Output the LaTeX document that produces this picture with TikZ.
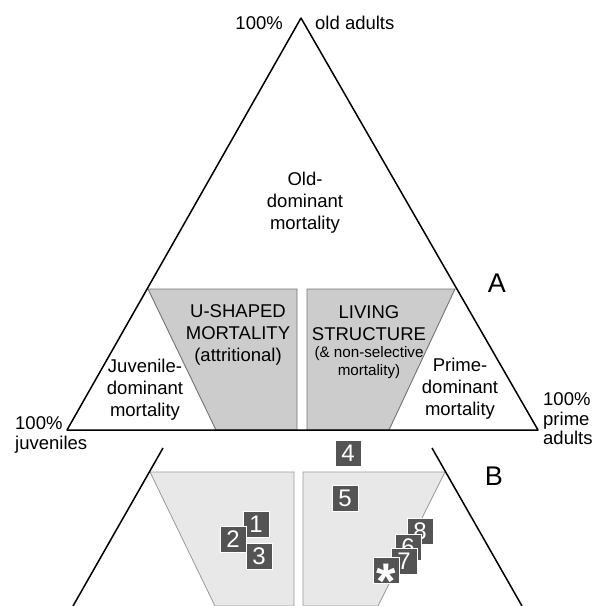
\documentclass[tikz,border=0pt]{standalone}
\usepackage{fontspec}
\setmainfont{Liberation Sans}
\usetikzlibrary{positioning}

\begin{document}
\begin{tikzpicture}[x=1pt, y=-1pt,
    edge/.style={line width=1.5pt, line join=round},
    zoneA/.style={fill=black!20, draw=black!55, line width=0.9pt},
    zoneB/.style={fill=black!9, draw=black!40, line width=0.8pt},
    zonetxt/.style={align=center, inner sep=0pt, font=\fontsize{18.5}{22}\selectfont},
    cornertxt/.style={align=left, inner sep=0pt, font=\fontsize{18.5}{19.5}\selectfont},
    panel/.style={inner sep=0pt, font=\fontsize{27}{27}\selectfont},
    sitebox/.style={fill=black!67, draw=white, line width=0.6pt, text=white,
        minimum size=26pt, inner sep=0pt, font=\fontsize{24}{24}\selectfont}]
    \useasboundingbox (0,0) rectangle (598,606);

    % triangle A corners
    \coordinate (apex) at (301,18);
    \coordinate (juv) at (67,430);
    \coordinate (prime) at (538,430);

    % shaded zones of A
    \draw [zoneA] (148,289) -- (297,289) -- (297,430) -- (216,430) -- cycle;
    \draw [zoneA] (307,289) -- (455,289) -- (389,430) -- (307,430) -- cycle;
    \draw [edge] (apex) -- (juv) -- (prime) -- cycle;

    % enlarged part B
    \draw [zoneB] (150,472) -- (294,472) -- (294,606) -- (215,606) -- cycle;
    \draw [zoneB] (303,472) -- (445,472) -- (378,606) -- (303,606) -- cycle;
    \coordinate (bltop) at (163,448);
    \coordinate (blbot) at (73,606);
    \coordinate (brtop) at (432,448);
    \coordinate (brbot) at (522,606);
    \draw [edge] (bltop) -- (blbot);
    \draw [edge] (brtop) -- (brbot);

    % corner labels
    \node [anchor=east, inner sep=0pt, font=\fontsize{18.5}{20}\selectfont] (oldpct) at (283,23) {100\%};
    \node [anchor=west, inner sep=0pt, font=\fontsize{18.5}{20}\selectfont] (oldname) at (315,23) {old adults};
    \node [cornertxt, anchor=west] (juvname) at (15,435) {100\%\\juveniles};
    \node [cornertxt, anchor=west] (primename) at (543,419) {100\%\\prime\\adults};

    % zone labels
    \node [zonetxt] (olddom) at (305,203) {Old-\\dominant\\mortality};
    \node [zonetxt] (ushape) at (238,335) {U-SHAPED\\MORTALITY\\(attritional)};
    \node [zonetxt] (living) at (369,323) {LIVING\\STRUCTURE};
    \node [zonetxt, font=\fontsize{15.2}{18}\selectfont] (nonsel) at (369,363) {(\& non-selective\\mortality)};
    \node [zonetxt] (juvdom) at (145,390) {Juvenile-\\dominant\\mortality};
    \node [zonetxt] (primedom) at (460,389) {Prime-\\dominant\\mortality};

    \node [panel] (pA) at (497,283) {A};
    \node [panel] (pB) at (494,476) {B};

    % sites
    \node [sitebox] (s4) at (348,453) {4};
    \node [sitebox] (s5) at (345,498) {5};
    \node [sitebox] (s1) at (256,524) {1};
    \node [sitebox] (s2) at (233,539) {2};
    \node [sitebox] (s3) at (259,556) {3};
    \node [sitebox] (s8) at (420,531) {8};
    \node [sitebox] (s6) at (408,547) {6};
    \node [sitebox] (s7) at (404,561) {7};
    \node [sitebox, font=\fontsize{50}{50}\bfseries] (sx) at (386,570) {\raisebox{-0.57em}[0.17em][0.17em]{*}};
\end{tikzpicture}
\end{document}
